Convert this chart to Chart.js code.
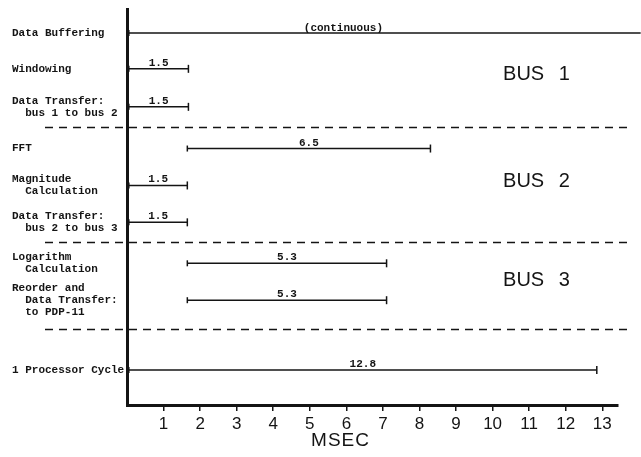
<!DOCTYPE html>
<html>
<head>
<meta charset="utf-8">
<script src="https://cdn.jsdelivr.net/npm/chart.js@4.4.0/dist/chart.umd.min.js"></script>
<style>
  html, body { margin: 0; padding: 0; background: #fff; }
  #wrap { width: 641px; height: 457px; }
</style>
</head>
<body>
<div id="wrap"><canvas id="timing"></canvas></div>
<script>
// one row per processing step, y in "row units" from the top
const rowLabels = [
    ['Data Buffering'],
    ['Windowing'],
    ['Data Transfer:', '  bus 1 to bus 2'],
    ['FFT'],
    ['Magnitude', '  Calculation'],
    ['Data Transfer:', '  bus 2 to bus 3'],
    ['Logarithm', '  Calculation'],
    ['Reorder and', '  Data Transfer:', '  to PDP-11'],
    ['1 Processor Cycle']
];
const rowPos = [0.65, 1.62, 2.65, 3.78, 4.78, 5.78, 6.89, 7.89, 9.78];
const starts = [0.05, 0.05, 0.05, 1.65, 0.05, 0.05, 1.65, 1.65, 0.05];
const ends = [14.05, 1.68, 1.68, 8.3, 1.65, 1.65, 7.1, 7.1, 12.85];
const durationText = ['(continuous)', '1.5', '1.5', '6.5', '1.5', '1.5', '5.3', '5.3', '12.8'];
const dividers = [3.19, 6.30, 8.68];
const busNames = ['BUS 1', 'BUS 2', 'BUS 3'];
const busRows = [1.76, 4.68, 7.35];
const xTickValues = [1, 2, 3, 4, 5, 6, 7, 8, 9, 10, 11, 12, 13];

const ink = '#141414';
const monoFont = '"Liberation Mono", "DejaVu Sans Mono", monospace';
const sansFont = '"Liberation Sans", "DejaVu Sans", sans-serif';

const datasets = rowPos.map((y, i) => ({
    data: [{ x: starts[i], y: y }, { x: ends[i], y: y }],
    showLine: true,
    borderColor: ink,
    backgroundColor: ink,
    borderWidth: 1.5,
    pointStyle: 'line',
    rotation: 90,
    pointRadius: i === 0 ? [3, 0] : [3, 4],
    pointBorderWidth: 1.5,
    clip: i === 0 ? false : undefined
}));

const overlay = {
    id: 'overlay',
    afterDatasetsDraw(chart) {
        const { ctx, chartArea, scales: { x, y } } = chart;
        ctx.save();
        ctx.strokeStyle = ink;
        ctx.fillStyle = ink;

        // bus dividers
        ctx.lineWidth = 1.5;
        ctx.setLineDash([8, 6]);
        dividers.forEach(v => {
            const py = Math.round(y.getPixelForValue(v)) + 0.5;
            ctx.beginPath();
            ctx.moveTo(chartArea.left - 82, py);
            ctx.lineTo(chart.width - 8, py);
            ctx.stroke();
        });
        ctx.setLineDash([]);

        // duration labels above each bar
        ctx.font = 'bold 11px ' + monoFont;
        ctx.textAlign = 'center';
        ctx.textBaseline = 'alphabetic';
        rowPos.forEach((v, i) => {
            const end = Math.min(ends[i], x.max);
            const px = x.getPixelForValue((starts[i] + end) / 2);
            const py = y.getPixelForValue(v) - 3;
            ctx.fillText(durationText[i], i === 0 ? px - 30 : px, i === 0 ? py + 1 : py);
        });

        // bus names
        ctx.font = '20px ' + sansFont;
        ctx.textBaseline = 'middle';
        ctx.wordSpacing = '9px';
        busNames.forEach((name, i) => {
            ctx.fillText(name, x.getPixelForValue(11.2), y.getPixelForValue(busRows[i]));
        });
        ctx.wordSpacing = '0px';

        // axis title
        ctx.font = '19px ' + sansFont;
        ctx.letterSpacing = '1px';
        ctx.fillText('MSEC', x.getPixelForValue(5.84), 441);
        ctx.restore();
    }
};

new Chart(document.getElementById('timing'), {
    type: 'scatter',
    data: { datasets: datasets },
    options: {
        responsive: true,
        maintainAspectRatio: false,
        animation: false,
        layout: { padding: { left: 12, right: 23, top: 8, bottom: 0 } },
        plugins: { legend: { display: false }, tooltip: { enabled: false } },
        scales: {
            x: {
                type: 'linear',
                min: 0,
                max: 13.43,
                afterFit: s => { s.height = 52; },
                afterBuildTicks: s => { s.ticks = xTickValues.map(v => ({ value: v })); },
                ticks: {
                    color: ink,
                    font: { family: sansFont, size: 17 },
                    padding: 3
                },
                grid: { drawOnChartArea: false, tickLength: 6, color: ink, lineWidth: 1.5 },
                border: { width: 3, color: ink }
            },
            y: {
                type: 'linear',
                reverse: true,
                min: 0,
                max: 10.73,
                afterFit: s => { s.width = 115; },
                afterBuildTicks: s => { s.ticks = rowPos.map(v => ({ value: v })); },
                ticks: {
                    autoSkip: false,
                    crossAlign: 'far',
                    color: ink,
                    font: { family: monoFont, size: 11, weight: 'bold', lineHeight: 1.1 },
                    callback: (v, i) => rowLabels[i]
                },
                grid: { display: false },
                border: { width: 3, color: ink }
            }
        }
    },
    plugins: [overlay]
});
</script>
</body>
</html>
